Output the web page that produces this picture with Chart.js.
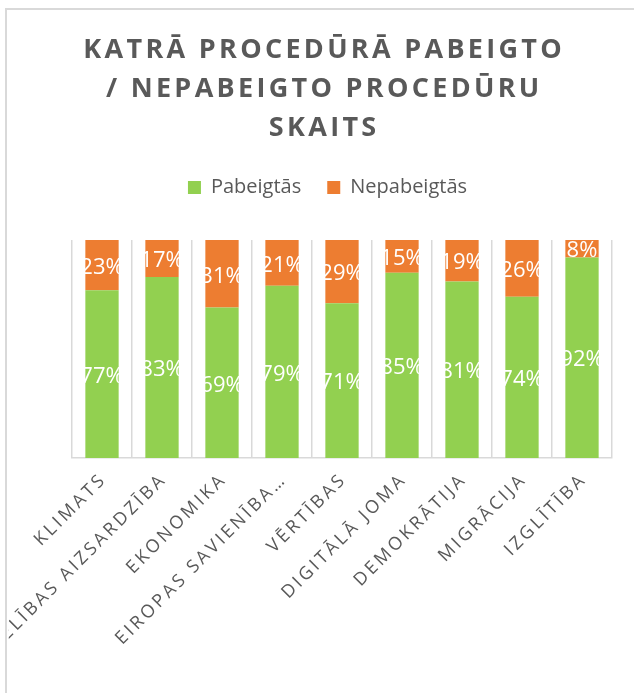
<!DOCTYPE html>
<html><head><meta charset="utf-8">
<script src="https://cdn.jsdelivr.net/npm/chart.js@4.4.1/dist/chart.umd.min.js"></script>
<style>
html,body{margin:0;padding:0;background:#fff;overflow:hidden;width:634px;height:693px;}
#frame{position:absolute;left:5px;top:8px;width:700px;height:800px;border-left:2px solid #d9d9d9;border-top:2px solid #d9d9d9;}
#wrap{position:absolute;left:7px;top:10px;width:627px;height:683px;overflow:hidden;}
canvas{display:block;}
</style></head><body>
<div id="frame"></div>
<div id="wrap"><canvas id="c" width="627" height="683"></canvas></div>
<script>
const categories = ['KLIMATS','VESELĪBAS AIZSARDZĪBA','EKONOMIKA','EIROPAS SAVIENĪBA…','VĒRTĪBAS','DIGITĀLĀ JOMA','DEMOKRĀTIJA','MIGRĀCIJA','IZGLĪTĪBA'];
const completed = [77,83,69,79,71,85,81,74,92];
const notCompleted = [23,17,31,21,29,15,19,26,8];
const seriesNames = ['Pabeigtās','Nepabeigtās'];
const titleLines = ['KATRĀ PROCEDŪRĀ PABEIGTO','/ NEPABEIGTO PROCEDŪRU','SKAITS'];

const GREY = '#595959';

const styleTweaks = {
  id: 'styleTweaks',
  beforeDraw(chart) {
    if (chart.$tweaked) return;
    chart.$tweaked = true;
    const ctx = chart.ctx;
    const t = chart.titleBlock;
    if (t) {
      const orig = t.draw.bind(t);
      t.draw = function(a){ ctx.save(); ctx.letterSpacing = '3.3px'; ctx.translate(-17.8, 0); orig(a); ctx.restore(); };
    }
    const l = chart.legend;
    if (l) {
      const orig = l.draw.bind(l);
      l.draw = function(a){ ctx.save(); ctx.translate(-14.5, 0); orig(a); ctx.restore(); };
    }
    const x = chart.scales.x;
    const origL = x.drawLabels.bind(x);
    x.drawLabels = function(a){ ctx.save(); ctx.letterSpacing = '3px'; ctx.translate(1.8, 0); origL(a); ctx.restore(); };
  }
};

const valueLabels = {
  id: 'valueLabels',
  afterDatasetsDraw(chart) {
    const ctx = chart.ctx;
    ctx.save();
    ctx.font = '22px "Open Sans"';
    ctx.fillStyle = '#ffffff';
    ctx.textAlign = 'center';
    ctx.textBaseline = 'middle';
    chart.data.datasets.forEach((ds, i) => {
      const meta = chart.getDatasetMeta(i);
      meta.data.forEach((el, j) => {
        const p = el.getProps(['x','y','base'], true);
        ctx.fillText(ds.data[j] + '%', p.x, (p.y + p.base) / 2 + 2.5);
      });
    });
    ctx.restore();
  }
};

new Chart(document.getElementById('c'), {
  type: 'bar',
  data: {
    labels: categories,
    datasets: [
      { label: seriesNames[0], data: completed, backgroundColor: '#92D050', borderWidth: 0, barPercentage: 0.555, categoryPercentage: 1 },
      { label: seriesNames[1], data: notCompleted, backgroundColor: '#ED7D31', borderWidth: 0, barPercentage: 0.555, categoryPercentage: 1 }
    ]
  },
  options: {
    responsive: false,
    animation: false,
    layout: { padding: { left: 65, right: 22, top: 0, bottom: 0 } },
    plugins: {
      title: {
        display: true,
        text: titleLines,
        color: GREY,
        font: { family: 'Open Sans', size: 27, weight: 'bold', lineHeight: 39/27 },
        padding: { top: 21, bottom: 3.5 }
      },
      legend: {
        display: true,
        position: 'top',
        labels: {
          color: GREY,
          font: { family: 'Open Sans', size: 20 },
          boxWidth: 13, boxHeight: 13,
          padding: 26
        }
      },
      tooltip: { enabled: false }
    },
    scales: {
      x: {
        stacked: true,
        grid: { color: '#d9d9d9', lineWidth: 1.5, drawTicks: false },
        border: { display: true, color: '#d9d9d9', width: 1.5 },
        ticks: {
          color: GREY,
          font: { family: 'Open Sans', size: 18 },
          minRotation: 45, maxRotation: 45,
          autoSkip: false,
          padding: 11
        },
        afterFit(s) { s.height = 235; }
      },
      xTop: {
        type: 'category',
        position: 'top',
        grid: { display: false },
        border: { display: false },
        ticks: { display: false },
        afterFit(s) { s.height = 32.5; }
      },
      y: {
        stacked: true,
        display: false,
        min: 0, max: 100
      }
    }
  },
  plugins: [styleTweaks, valueLabels]
});
</script>
</body></html>
